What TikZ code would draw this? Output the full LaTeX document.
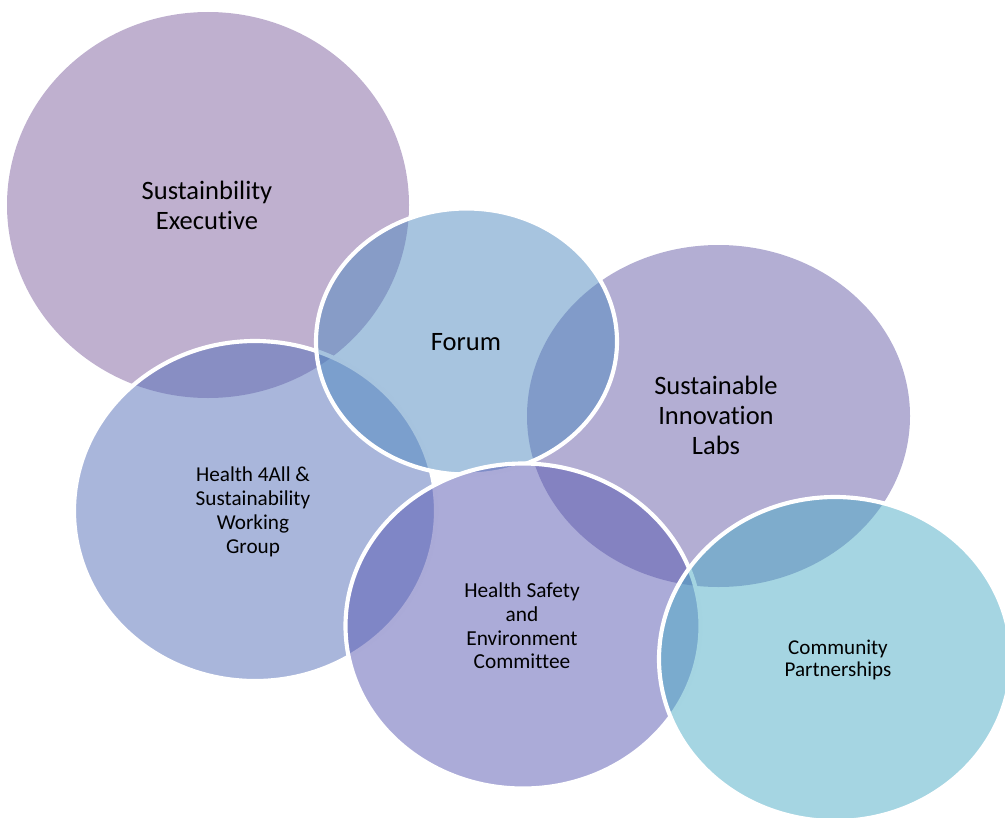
\documentclass[tikz,border=0pt]{standalone}
\usepackage{fontspec}
\setmainfont{Carlito}[Ligatures={NoCommon}]
\usetikzlibrary{shapes.geometric}
\definecolor{cexec}{RGB}{127,97,159}
\definecolor{cforum}{RGB}{79,137,191}
\definecolor{clabs}{RGB}{103,93,167}
\definecolor{chfa}{RGB}{83,109,183}
\definecolor{chs}{RGB}{87,87,177}
\definecolor{ccom}{RGB}{75,171,197}
\begin{document}
\begin{tikzpicture}[x=0.75pt,y=-0.75pt,
  blob/.style n args={3}{ellipse, inner sep=0pt, fill=#1, fill opacity=0.5,
    minimum width=#2*1.5pt, minimum height=#3*1.5pt},
  rim/.style={draw=white, line width=3.1pt},
  lbl/.style={align=center, text=black, inner sep=0pt},
  big/.style={font=\fontsize{19.9}{22.5}\selectfont},
  small/.style={font=\fontsize{16}{17.8}\selectfont}]
\useasboundingbox (0,0) rectangle (1005,817);
\clip (0,0) rectangle (1005,817);
\node[blob={cexec}{201}{193}] (exec) at (208,205) {};
\node[blob={clabs}{191.5}{171}] (labs) at (718.5,416) {};
\node[blob={chfa}{181}{170}, rim] (hfa) at (255,511) {};
\node[blob={cforum}{150.5}{133}, rim] (forum) at (466.5,341.5) {};
\node[blob={chs}{177.5}{162.5}, rim] (hs) at (523,626) {};
\node[blob={ccom}{176}{162}, rim] (com) at (835,659) {};
\node[lbl, big] (texec) at (207,205) {Sustainbility\\Executive};
\node[lbl, big] (tforum) at (466,342) {Forum};
\node[lbl, big] (tlabs) at (716,415) {Sustainable\\Innovation\\Labs};
\node[lbl, small, font=\fontsize{15.9}{18}\selectfont] (thfa) at (253,512) {Health 4All \&\\Sustainability\\Working\\Group};
\node[lbl, small] (ths) at (522,626) {Health Safety\\and\\Environment\\Committee};
\node[lbl, small, font=\fontsize{15.8}{16.5}\selectfont] (tcom) at (838,660) {Community\\Partnerships};
\end{tikzpicture}
\end{document}
